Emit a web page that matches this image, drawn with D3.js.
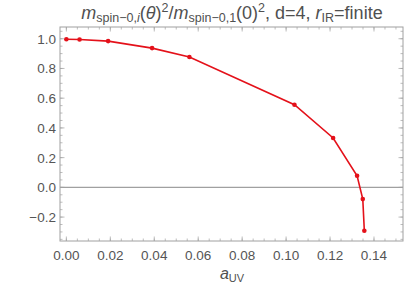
<!DOCTYPE html>
<html>
<head>
<meta charset="utf-8">
<script src="https://cdn.jsdelivr.net/npm/d3@7"></script>
<style>
  body { margin: 0; background: #fff; }
  text { font-family: "Liberation Sans", Arial, sans-serif; }
</style>
</head>
<body>
<script>
// data
const aUV = [0.0, 0.006, 0.019, 0.039, 0.056, 0.1038, 0.1214, 0.1323, 0.1349, 0.1356];
const massRatio = [0.997, 0.995, 0.984, 0.937, 0.877, 0.556, 0.332, 0.078, -0.079, -0.292];
const xTicks = [0, 0.02, 0.04, 0.06, 0.08, 0.10, 0.12, 0.14];
const yTicks = [-0.2, 0, 0.2, 0.4, 0.6, 0.8, 1.0];

const W = 407, H = 293;
const m = { left: 60, right: 4, top: 27, bottom: 52 };

const svg = d3.select('body').append('svg')
  .attr('width', W)
  .attr('height', H);

const x = d3.scaleLinear().domain([-0.0029, 0.1532]).range([m.left, W - m.right]);
const y = d3.scaleLinear().domain([-0.361, 1.079]).range([H - m.bottom, m.top]);

const frameCol = '#a0a0a0';
const labelCol = '#555';

// minor ticks
const xMinor = d3.range(0, 0.1531, 0.005);
const yMinor = d3.range(-0.35, 1.076, 0.05);

function tickLines(vals, isX, len) {
  const g = svg.append('g').attr('stroke', frameCol).attr('stroke-width', 0.7);
  vals.forEach(v => {
    if (isX) {
      const px = x(v);
      g.append('line').attr('x1', px).attr('x2', px).attr('y1', y.range()[0]).attr('y2', y.range()[0] - len);
      g.append('line').attr('x1', px).attr('x2', px).attr('y1', y.range()[1]).attr('y2', y.range()[1] + len);
    } else {
      const py = y(v);
      g.append('line').attr('y1', py).attr('y2', py).attr('x1', x.range()[0]).attr('x2', x.range()[0] + len);
      g.append('line').attr('y1', py).attr('y2', py).attr('x1', x.range()[1]).attr('x2', x.range()[1] - len);
    }
  });
}
tickLines(xMinor, true, 2.5);
tickLines(xTicks, true, 4.5);
tickLines(yMinor, false, 2.5);
tickLines(yTicks, false, 4.5);

// frame
svg.append('rect')
  .attr('x', m.left).attr('y', m.top)
  .attr('width', W - m.right - m.left)
  .attr('height', H - m.bottom - m.top)
  .attr('fill', 'none')
  .attr('stroke', frameCol)
  .attr('stroke-width', 1);

// tick labels
svg.append('g').selectAll('text')
  .data(xTicks).enter().append('text')
  .attr('x', d => x(d))
  .attr('y', H - m.bottom + 19)
  .attr('text-anchor', 'middle')
  .attr('font-size', 13.5)
  .attr('fill', labelCol)
  .text(d => d.toFixed(2));

svg.append('g').selectAll('text')
  .data(yTicks).enter().append('text')
  .attr('x', m.left - 4)
  .attr('y', d => y(d) + 5)
  .attr('text-anchor', 'end')
  .attr('font-size', 13.5)
  .attr('fill', labelCol)
  .text(d => (d < 0 ? '\u2212' + Math.abs(d).toFixed(1) : d.toFixed(1)));

// zero line
svg.append('line')
  .attr('x1', x.range()[0]).attr('x2', x.range()[1])
  .attr('y1', y(0)).attr('y2', y(0))
  .attr('stroke', '#a0a0a0')
  .attr('stroke-width', 1.3);

// data line and points
const line = d3.line().x((d, i) => x(aUV[i])).y(d => y(d));
svg.append('path')
  .datum(massRatio)
  .attr('d', line)
  .attr('fill', 'none')
  .attr('stroke', '#e4111a')
  .attr('stroke-width', 1.6);

svg.append('g').selectAll('circle')
  .data(massRatio).enter().append('circle')
  .attr('cx', (d, i) => x(aUV[i]))
  .attr('cy', d => y(d))
  .attr('r', 2.3)
  .attr('fill', '#e4111a');

// title
const sub = 12.5;
const title = svg.append('text')
  .attr('x', 232)
  .attr('y', 19)
  .attr('text-anchor', 'middle')
  .attr('font-size', 18)
  .attr('fill', '#505050');
title.append('tspan').attr('font-style', 'italic').text('m');
title.append('tspan').attr('font-size', sub).attr('dy', 3).text('spin\u22120,');
title.append('tspan').attr('font-size', sub).attr('font-style', 'italic').text('i');
title.append('tspan').attr('dy', -3).text('(');
title.append('tspan').attr('font-style', 'italic').text('\u03b8');
title.append('tspan').text(')');
title.append('tspan').attr('font-size', sub).attr('dy', -7).text('2');
title.append('tspan').attr('dy', 7).text('/');
title.append('tspan').attr('font-style', 'italic').text('m');
title.append('tspan').attr('font-size', sub).attr('dy', 3).text('spin\u22120,1');
title.append('tspan').attr('dy', -3).text('(0)');
title.append('tspan').attr('font-size', sub).attr('dy', -7).text('2');
title.append('tspan').attr('dy', 7).text(', d=4, ');
title.append('tspan').attr('font-style', 'italic').text('r');
title.append('tspan').attr('font-size', sub).attr('dy', 3).text('IR');
title.append('tspan').attr('dy', -3).text('=finite');

// x axis label
const xl = svg.append('text')
  .attr('x', 232)
  .attr('y', 279)
  .attr('text-anchor', 'middle')
  .attr('font-size', 16)
  .attr('fill', '#505050');
xl.append('tspan').attr('font-style', 'italic').text('a');
xl.append('tspan').attr('font-size', 11).attr('dy', 3).text('UV');
</script>
</body>
</html>
